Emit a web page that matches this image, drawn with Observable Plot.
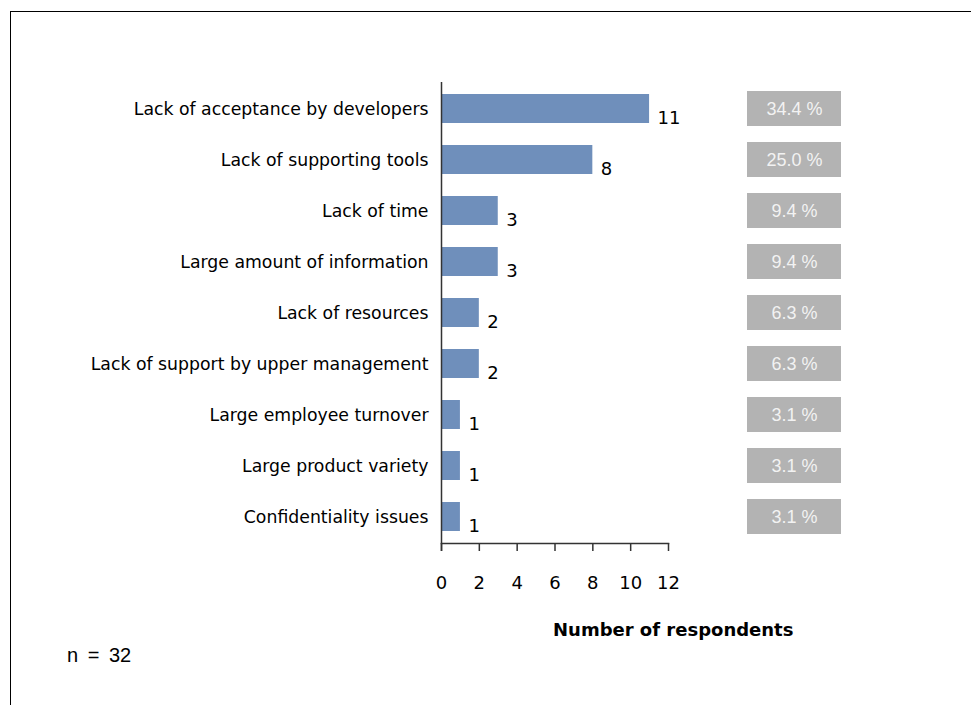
<!DOCTYPE html>
<html>
<head>
<meta charset="utf-8">
<script src="https://cdn.jsdelivr.net/npm/d3@7"></script>
<script src="https://cdn.jsdelivr.net/npm/@observablehq/plot@0.6"></script>
<style>
  html, body { margin: 0; padding: 0; background: #fff; }
  #wrap { position: relative; width: 971px; height: 705px; overflow: hidden; background: #fff; }
  #wrap svg { position: absolute; left: 0; top: 0; }
  #border { position: absolute; left: 10px; top: 11px; width: 980px; height: 720px;
            border-top: 1.5px solid #000; border-left: 1.5px solid #000; }
  .cap { position: absolute; white-space: pre; color: #000; }
  #xtitle { left: 553px; top: 619px; font-family: "DejaVu Sans"; font-weight: bold; font-size: 18px; }
  #ncap { left: 67px; top: 644px; font-family: "Liberation Sans"; font-size: 20px; word-spacing: 4px; }
</style>
</head>
<body>
<div id="wrap">
  <div id="border"></div>
</div>
<script>
const categories = [
  "Lack of acceptance by developers",
  "Lack of supporting tools",
  "Lack of time",
  "Large amount of information",
  "Lack of resources",
  "Lack of support by upper management",
  "Large employee turnover",
  "Large product variety",
  "Confidentiality issues"
];
const counts = [11, 8, 3, 3, 2, 2, 1, 1, 1];
const percents = ["34.4 %", "25.0 %", "9.4 %", "9.4 %", "6.3 %", "6.3 %", "3.1 %", "3.1 %", "3.1 %"];
const xTicks = [0, 2, 4, 6, 8, 10, 12];
const axisTitle = "Number of respondents";
const sampleNote = "n = 32";

const data = categories.map((label, i) => ({label, count: counts[i], pct: percents[i]}));

const W = 971, H = 705, MT = 82, MB = 162;

const main = Plot.plot({
  width: W, height: H,
  marginTop: MT, marginBottom: MB, marginLeft: 441, marginRight: 303,
  x: {domain: [0, 12], ticks: xTicks},
  y: {domain: categories, padding: 0},
  style: {fontFamily: "DejaVu Sans", fontSize: "17px", color: "#000", background: "transparent", overflow: "visible"},
  marks: [
    Plot.barX(data, {x: "count", y: "label", fill: "#6f8fbb", insetTop: 11, insetBottom: 11}),
    Plot.text(data, {x: "count", y: "label", text: d => String(d.count), textAnchor: "start", dx: 8, dy: 9, fontSize: 18, fill: "#000"}),
    Plot.ruleX([0], {stroke: "#333", strokeWidth: 1.5, insetBottom: -8}),
    Plot.frame({anchor: "bottom", stroke: "#333", strokeWidth: 1.5}),
    Plot.axisX({ticks: xTicks, tickSize: 8, tickPadding: 25, tickFormat: d => String(d), label: null, strokeWidth: 1.5, stroke: "#333", fontSize: 18}),
    Plot.axisY({tickSize: 0, tickPadding: 13, label: null, fontSize: 17.3})
  ]
});

const side = Plot.plot({
  width: W, height: H,
  marginTop: MT, marginBottom: MB, marginLeft: 747, marginRight: 130,
  x: {domain: [0, 1], axis: null},
  y: {domain: categories, padding: 0, axis: null},
  style: {fontFamily: "Liberation Sans", fontSize: "16px", background: "transparent"},
  marks: [
    Plot.barX(data, {x1: 0, x2: 1, y: "label", fill: "#b3b3b3", insetTop: 8, insetBottom: 8}),
    Plot.text(data, {x: 0.5, y: "label", text: "pct", fill: "#f2f2f2", fontSize: 18, style: "word-spacing:2px"})
  ]
});

const wrap = document.getElementById("wrap");
wrap.appendChild(main);
wrap.appendChild(side);
const t = document.createElement("div"); t.id = "xtitle"; t.className = "cap"; t.textContent = axisTitle; wrap.appendChild(t);
const n = document.createElement("div"); n.id = "ncap"; n.className = "cap"; n.textContent = sampleNote; wrap.appendChild(n);
</script>
</body>
</html>
